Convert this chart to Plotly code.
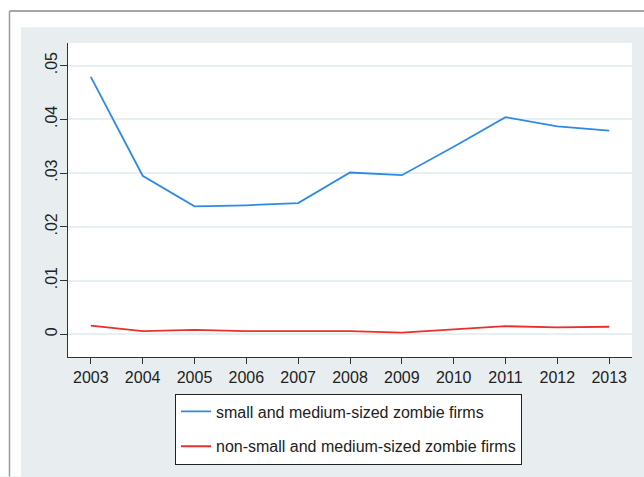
import plotly.graph_objects as go

years = [2003, 2004, 2005, 2006, 2007, 2008, 2009, 2010, 2011, 2012, 2013]
sme_zombie = [0.0479, 0.0295, 0.0238, 0.0240, 0.0244, 0.0301, 0.0296, 0.0349, 0.0404, 0.0387, 0.0379]
non_sme_zombie = [0.0016, 0.0006, 0.0008, 0.0006, 0.0006, 0.0006, 0.0003, 0.0009, 0.0015, 0.0013, 0.0014]
y_tickvals = [0, 0.01, 0.02, 0.03, 0.04, 0.05]
y_ticktext = ["0", ".01", ".02", ".03", ".04", ".05"]
series_names = ["small and medium-sized zombie firms", "non-small and medium-sized zombie firms"]

W, H = 644, 477
L, R, T, B = 68, 632, 43, 361
pw, ph = R - L, B - T

def px(x):
    return (x - L) / pw

def py(y):
    return (B - y) / ph

fig = go.Figure()
fig.add_trace(go.Scatter(x=years, y=sme_zombie, mode="lines", name=series_names[0],
                         line=dict(color="#2f8ae4", width=1.8), legendgroup="a"))
fig.add_trace(go.Scatter(x=years, y=non_sme_zombie, mode="lines", name=series_names[1],
                         line=dict(color="#e8302c", width=1.8), legendgroup="b"))

font = "Arial, 'Liberation Sans', sans-serif"
BG = "#e8eef0"

fig.update_layout(
    width=W, height=H,
    margin=dict(l=L, r=W - R, t=T, b=H - B, pad=0),
    paper_bgcolor=BG,
    plot_bgcolor="white",
    font=dict(family=font, size=16, color="#222222"),
    showlegend=True,
    legend=dict(
        x=px(175), y=py(398), xanchor="left", yanchor="top",
        bgcolor="white", bordercolor="#222222", borderwidth=1,
        font=dict(size=16, color="#222222"),
        traceorder="grouped", tracegroupgap=11,
    ),
    xaxis=dict(
        range=[2002.56, 2013.44], tickvals=years, ticks="outside", ticklen=6,
        tickcolor="#333333", showline=True, linecolor="#333333", linewidth=1.2,
        showgrid=False, zeroline=False, mirror=False,
        tickfont=dict(size=16), fixedrange=True,
    ),
    yaxis=dict(
        range=[-0.00423, 0.0542], tickvals=y_tickvals, ticktext=y_ticktext,
        ticks="outside", ticklen=7, tickcolor="#333333", tickangle=-90,
        ticklabelstandoff=-3,
        showline=True, linecolor="#333333", linewidth=1.2,
        showgrid=True, gridcolor="#e6eff2", gridwidth=1.5, zeroline=False,
        tickfont=dict(size=16), fixedrange=True,
    ),
    shapes=[
        # white outer strips (top and left)
        dict(type="rect", xref="paper", yref="paper", x0=px(-5), x1=px(W + 5),
             y0=py(27), y1=py(-5), fillcolor="white", line=dict(width=0), layer="below"),
        dict(type="rect", xref="paper", yref="paper", x0=px(-5), x1=px(21),
             y0=py(H + 5), y1=py(-5), fillcolor="white", line=dict(width=0), layer="below"),
        # outer frame lines (top and left)
        dict(type="line", xref="paper", yref="paper", x0=px(9.5), x1=px(W + 5),
             y0=py(10.5), y1=py(10.5), line=dict(color="#8a8a8a", width=1.5)),
        dict(type="line", xref="paper", yref="paper", x0=px(9.5), x1=px(9.5),
             y0=py(10.5), y1=py(H + 5), line=dict(color="#9a9a9a", width=1.5)),
    ],
)

fig.write_html("out.html", config={"displayModeBar": False},
               post_script="document.body.style.margin='0';")
